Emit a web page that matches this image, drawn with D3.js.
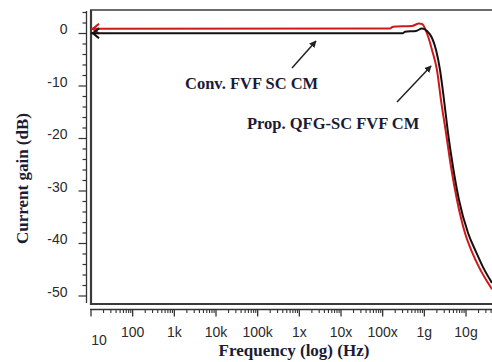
<!DOCTYPE html>
<html>
<head>
<meta charset="utf-8">
<script src="https://cdn.jsdelivr.net/npm/d3@7"></script>
<style>
  body { margin: 0; background: #fff; }
  svg { display: block; }
</style>
</head>
<body>
<div id="vis"></div>
<script>
var width = 492,
    height = 362;

// frequency (Hz) / gain (dB)
var convFreq = [10, 3.08e8, 3.44e8, 6.3e8, 8.79e8, 1.16e9, 1.53e9, 1.91e9, 2.38e9, 2.97e9, 3.7e9, 4.88e9, 6.79e9, 1.12e10, 1.74e10, 2.56e10, 4.2e10];
var convGain = [0.05, 0.05, 0.35, 0.48, 0.95, 0.48, -0.86, -3.14, -6.95, -12.67, -18.95, -25.43, -31.71, -38.0, -41.6, -44.5, -47.5];

var propFreq = [10, 1.5e8, 1.77e8, 5.06e8, 7.45e8, 8.79e8, 1.22e9, 1.53e9, 2.01e9, 2.51e9, 3.31e9, 4.37e9, 6.08e9, 9.46e9, 1.39e10, 2.05e10, 3.19e10, 4.2e10];
var propGain = [0.9, 0.95, 1.3, 1.43, 1.9, 1.81, -0.48, -3.14, -6.95, -12.67, -18.95, -25.43, -31.71, -38.0, -41.6, -44.5, -47.2, -48.7];

var xTicks = [1e1, 1e2, 1e3, 1e4, 1e5, 1e6, 1e7, 1e8, 1e9, 1e10];
var xTickLabels = ["10", "100", "1k", "10k", "100k", "1x", "10x", "100x", "1g", "10g"];
var yTicks = [0, -10, -20, -30, -40, -50];

var x = d3.scaleLog()
    .domain([10, Math.pow(10, 10.624)])
    .range([91, 492]);

var y = d3.scaleLinear()
    .domain([0, -50])
    .range([33.5, 296]);

var svg = d3.select("#vis").append("svg")
    .attr("width", width)
    .attr("height", height)
    .style("background", "#fff");

svg.append("defs").append("marker")
    .attr("id", "head")
    .attr("viewBox", "0 0 10 10")
    .attr("refX", 9)
    .attr("refY", 5)
    .attr("markerWidth", 7)
    .attr("markerHeight", 7)
    .attr("markerUnits", "userSpaceOnUse")
    .attr("orient", "auto")
    .append("path")
    .attr("d", "M0,0L10,5L0,10Z")
    .attr("fill", "#222");

// frame
var frame = svg.append("g")
    .attr("fill", "none")
    .attr("stroke", "#3a3a3a");
frame.append("line").attr("x1", 90).attr("x2", 492).attr("y1", 10).attr("y2", 10).attr("stroke-width", 1.5);
frame.append("line").attr("x1", 91).attr("x2", 91).attr("y1", 10).attr("y2", 305).attr("stroke-width", 2.2);
frame.append("line").attr("x1", 90).attr("x2", 492).attr("y1", 304).attr("y2", 304).attr("stroke-width", 2);

// y axis
var yAxis = svg.append("g")
    .attr("transform", "translate(86.5,0)")
    .attr("font-family", "'Liberation Sans', Arial, sans-serif")
    .attr("font-size", 14)
    .attr("fill", "#2b2b2b");
yAxis.append("line").attr("y1", 11).attr("y2", 303).attr("stroke", "#333").attr("stroke-width", 1.3);
yAxis.selectAll(".minor")
    .data(d3.range(4, -51, -2))
    .enter().append("line")
    .attr("x1", function(d) { return d % 10 === 0 ? -8 : -4; })
    .attr("x2", 0)
    .attr("y1", function(d) { return y(d); })
    .attr("y2", function(d) { return y(d); })
    .attr("stroke", "#333")
    .attr("stroke-width", 1.2);
yAxis.selectAll("text")
    .data(yTicks)
    .enter().append("text")
    .attr("x", -19)
    .attr("y", function(d) { return y(d) + 0.5; })
    .attr("text-anchor", "end")
    .text(function(d) { return d; });

// x axis
var xAxis = svg.append("g")
    .attr("transform", "translate(0,309.5)")
    .attr("font-family", "'Liberation Sans', Arial, sans-serif")
    .attr("font-size", 14)
    .attr("fill", "#2b2b2b");
xAxis.append("line").attr("x1", 90).attr("x2", 492).attr("stroke", "#333").attr("stroke-width", 1.3);
var minors = [];
xTicks.concat([1e11]).forEach(function(t) {
    for (var k = 2; k < 10; k++) {
        var f = t * k;
        if (x(f) <= 492) minors.push(f);
    }
});
xAxis.selectAll(".minor")
    .data(minors)
    .enter().append("line")
    .attr("x1", function(d) { return x(d); })
    .attr("x2", function(d) { return x(d); })
    .attr("y2", 3.5)
    .attr("stroke", "#333")
    .attr("stroke-width", 1.1);
xAxis.selectAll(".major")
    .data(xTicks)
    .enter().append("line")
    .attr("x1", function(d) { return x(d); })
    .attr("x2", function(d) { return x(d); })
    .attr("y2", 7)
    .attr("stroke", "#333")
    .attr("stroke-width", 1.3);
xAxis.selectAll("text")
    .data(xTicks)
    .enter().append("text")
    .attr("x", function(d, i) { return i === 0 ? x(d) + 8 : x(d); })
    .attr("y", function(d, i) { return i === 0 ? 35.5 : 27.5; })
    .attr("text-anchor", "middle")
    .text(function(d, i) { return xTickLabels[i]; });

// axis titles
var titleFont = "'Liberation Serif', 'Times New Roman', serif";
svg.append("text")
    .attr("transform", "translate(28,178.5)rotate(-90)")
    .attr("text-anchor", "middle")
    .attr("font-family", titleFont)
    .attr("font-weight", "bold")
    .attr("font-size", 17)
    .attr("fill", "#1b1b36")
    .text("Current gain (dB)");
svg.append("text")
    .attr("x", 294)
    .attr("y", 356)
    .attr("text-anchor", "middle")
    .attr("font-family", titleFont)
    .attr("font-weight", "bold")
    .attr("font-size", 17)
    .attr("fill", "#1b1b36")
    .text("Frequency (log) (Hz)");

// curves
var line = d3.line()
    .x(function(d) { return x(d[0]); })
    .y(function(d) { return y(d[1]); })
    .curve(d3.curveMonotoneX);

var series = [
    { f: propFreq, g: propGain, color: "#d01818" },
    { f: convFreq, g: convGain, color: "#111" }
];

var curves = svg.selectAll(".curve")
    .data(series)
    .enter().append("g");

curves.append("path")
    .attr("fill", "none")
    .attr("stroke", function(d) { return d.color; })
    .attr("stroke-width", 2)
    .attr("d", function(d) { return line(d3.zip(d.f, d.g)); });

// start markers (left pointing chevrons)
curves.append("path")
    .attr("fill", "none")
    .attr("stroke", function(d) { return d.color; })
    .attr("stroke-width", 2.2)
    .attr("d", function(d) {
        var px = x(d.f[0]) + 2,
            py = y(d.g[0]);
        return "M" + [px + 6, py - 5] + "L" + [px, py] + "L" + [px + 6, py + 5];
    });

// annotations
var notes = [
    { text: "Conv. FVF SC CM", tx: 1.8e3, ty: -10.57, from: [6.67e5, -6.57], to: [2.51e6, -1.43] },
    { text: "Prop. QFG-SC FVF CM", tx: 5.55e4, ty: -18.19, from: [2.21e8, -13.05], to: [1.45e9, -6.19] }
];

var note = svg.selectAll(".note")
    .data(notes)
    .enter().append("g");

note.append("text")
    .attr("x", function(d) { return x(d.tx); })
    .attr("y", function(d) { return y(d.ty); })
    .attr("font-family", titleFont)
    .attr("font-weight", "bold")
    .attr("font-size", 16.5)
    .attr("fill", "#1b1b36")
    .text(function(d) { return d.text; });

note.append("line")
    .attr("x1", function(d) { return x(d.from[0]); })
    .attr("y1", function(d) { return y(d.from[1]); })
    .attr("x2", function(d) { return x(d.to[0]); })
    .attr("y2", function(d) { return y(d.to[1]); })
    .attr("stroke", "#222")
    .attr("stroke-width", 1.5)
    .attr("marker-end", "url(#head)");
</script>
</body>
</html>
